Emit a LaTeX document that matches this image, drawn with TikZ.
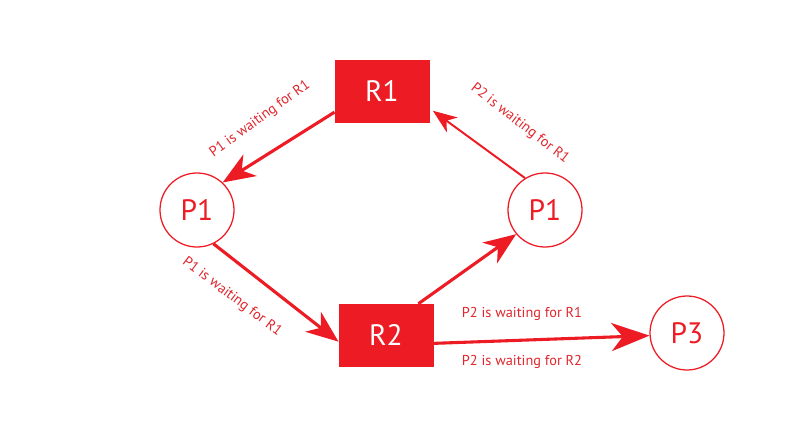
\documentclass[tikz,border=0pt]{standalone}
\usepackage{fontspec}
\setmainfont{PT Sans}
\usetikzlibrary{arrows.meta,positioning}
\definecolor{deadred}{HTML}{ED1C24}
\definecolor{labred}{HTML}{E0262C}

\begin{document}
\begin{tikzpicture}[>={Stealth[length=23pt,width=18pt,inset=7pt]},
  res/.style={draw=deadred,fill=deadred,minimum width=2.36cm,minimum height=1.55cm,
    text=white,font=\fontsize{21}{24}\selectfont},
  proc/.style={circle,draw=deadred,line width=0.9pt,minimum size=1.85cm,inner sep=0pt,
    text=deadred,font=\fontsize{21}{24}\selectfont},
  wait/.style={text=labred,font=\fontsize{10.2}{12}\selectfont,inner sep=1pt},
  edge/.style={deadred,line width=2.2pt,->}]
  \useasboundingbox (0,0) rectangle (20,11.1);
  \node[res] (r1) at (9.55,8.825) {R1};
  \node[res] (r2) at (9.65,2.725) {R2};
  \node[proc] (p1a) at (4.925,5.85) {P1};
  \node[proc] (p1b) at (13.625,5.85) {P1};
  \node[proc] (p3) at (17.175,2.775) {P3};
  % arrows
  \draw[edge] (r1.204) -- (p1a.47);
  \draw[edge,line width=1.4pt,>={Stealth[length=17pt,width=13pt,inset=5pt]},shorten >=3pt]
    (p1b.122) -- (r1.-20);
  \draw[edge] (p1a.-64) -- (r2.188);
  \draw[edge] (r2.44) -- (p1b.220);
  \draw[edge,>={Stealth[length=27pt,width=20pt,inset=8pt]}] (r2.-10) -- (p3.184);
  % labels
  \node[wait,rotate=36] (wa) at (6.5,8.125) {P1 is waiting for R1};
  \node[wait,rotate=-38] (wb) at (13.0,8.0) {P2 is waiting for R1};
  \node[wait,rotate=-37] (wc) at (5.8,3.675) {P1 is waiting for R1};
  \node[wait] (wd) at (13.05,3.25) {P2 is waiting for R1};
  \node[wait] (we) at (13.05,2.05) {P2 is waiting for R2};
\end{tikzpicture}
\end{document}
